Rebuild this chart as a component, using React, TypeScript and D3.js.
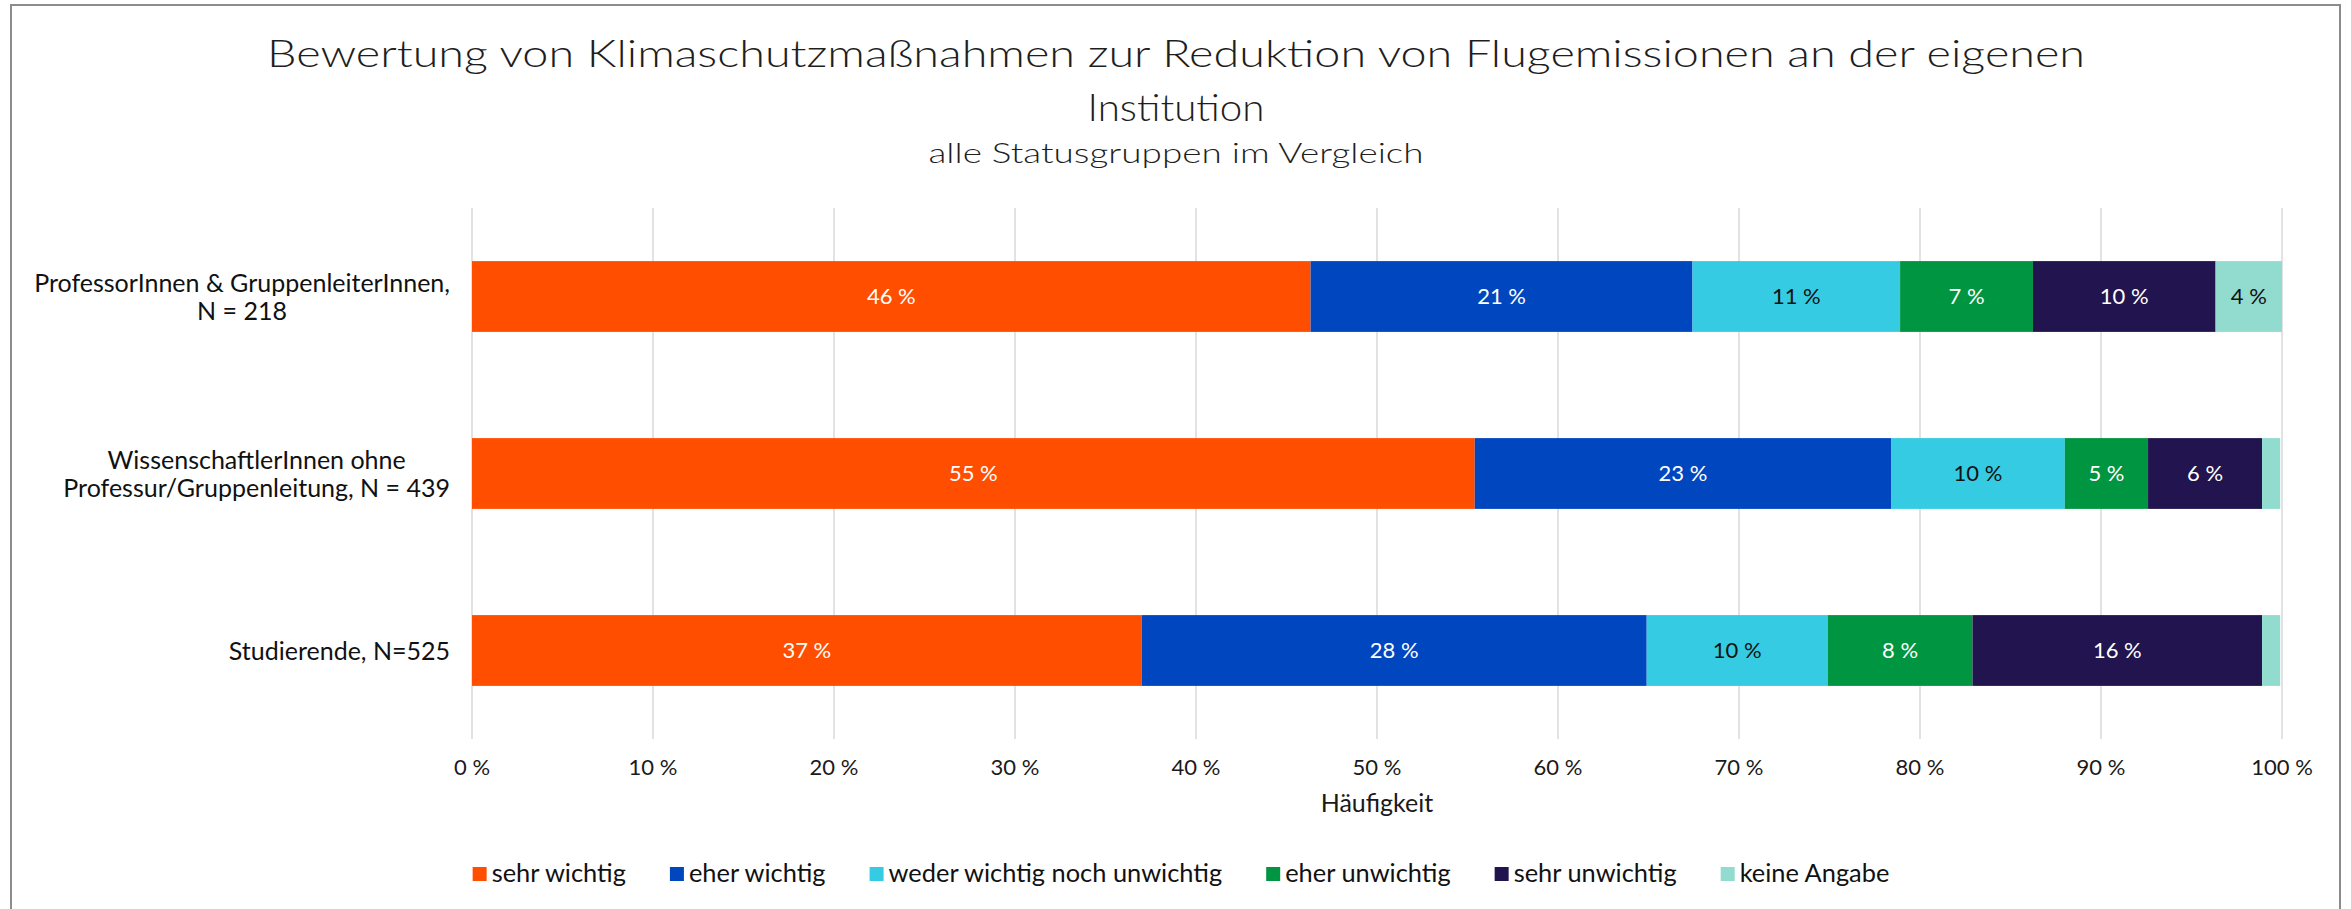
import React, { useEffect, useRef } from "react";
import * as d3 from "d3";

const W = 2351;
const H = 909;

// ---- data ----
const titleLines = [
  "Bewertung von Klimaschutzmaßnahmen zur Reduktion von Flugemissionen an der eigenen",
  "Institution",
];
const subtitle = "alle Statusgruppen im Vergleich";
const axisTitle = "Häufigkeit";

const categoryIds = ["prof", "wiss", "stud"];
const categoryLabels = [
  ["ProfessorInnen & GruppenleiterInnen,", "N = 218"],
  ["WissenschaftlerInnen ohne", "Professur/Gruppenleitung, N = 439"],
  ["Studierende, N=525"],
];

const seriesNames = [
  "sehr wichtig",
  "eher wichtig",
  "weder wichtig noch unwichtig",
  "eher unwichtig",
  "sehr unwichtig",
  "keine Angabe",
];
const seriesColors = ["#FF4E00", "#0046BF", "#35CCE3", "#009540", "#21144F", "#91DBCF"];
const labelColors = ["#ffffff", "#ffffff", "#111111", "#ffffff", "#ffffff", "#111111"];

const sehrWichtig = [46.33, 55.4, 37.0];
const eherWichtig = [21.1, 23.0, 27.9];
const weder = [11.47, 9.6, 10.0];
const eherUnwichtig = [7.34, 4.6, 8.0];
const sehrUnwichtig = [10.09, 6.3, 16.0];
const keineAngabe = [3.67, 1.0, 1.0];
const seriesValues = [sehrWichtig, eherWichtig, weder, eherUnwichtig, sehrUnwichtig, keineAngabe];

const xTicks = [0, 10, 20, 30, 40, 50, 60, 70, 80, 90, 100];

const FONT = "Lato, 'Open Sans', 'DejaVu Sans', sans-serif";

export default function App() {
  const ref = useRef<SVGSVGElement>(null);

  useEffect(() => {
    const svg = d3.select(ref.current);
    svg.selectAll("*").remove();

    const plot = { left: 472, right: 2282, top: 208, bottom: 739 };

    // frame
    svg
      .append("rect")
      .attr("x", 11)
      .attr("y", 5)
      .attr("width", 2329)
      .attr("height", 1000)
      .attr("fill", "#ffffff")
      .attr("stroke", "#8c8c8c")
      .attr("stroke-width", 2);

    const cx = 1176;

    // title
    const titleSpecs = [
      { text: titleLines[0], y: 67, size: 37, len: 1818 },
      { text: titleLines[1], y: 121, size: 37, len: 177 },
      { text: subtitle, y: 163, size: 28, len: 495 },
    ];
    titleSpecs.forEach((t) => {
      svg
        .append("text")
        .attr("x", cx)
        .attr("y", t.y)
        .attr("text-anchor", "middle")
        .attr("font-family", FONT)
        .attr("font-weight", 300)
        .attr("font-size", t.size)
        .attr("fill", "#1e1e1e")
        .attr("textLength", t.len)
        .attr("lengthAdjust", "spacingAndGlyphs")
        .text(t.text);
    });

    const x = d3.scaleLinear().domain([0, 100]).range([plot.left, plot.right]);
    const y = d3
      .scaleBand<string>()
      .domain(categoryIds)
      .range([plot.top, plot.bottom])
      .paddingInner(0.6)
      .paddingOuter(0.3);

    // gridlines
    svg
      .append("g")
      .selectAll("line")
      .data(xTicks)
      .join("line")
      .attr("x1", (d) => x(d))
      .attr("x2", (d) => x(d))
      .attr("y1", plot.top)
      .attr("y2", plot.bottom)
      .attr("stroke", "#d9d9d9")
      .attr("stroke-width", 1.5);

    // tick labels
    svg
      .append("g")
      .selectAll("text")
      .data(xTicks)
      .join("text")
      .attr("x", (d) => x(d))
      .attr("y", 775)
      .attr("text-anchor", "middle")
      .attr("font-family", FONT)
      .attr("font-size", 22)
      .attr("fill", "#1a1a1a")
      .text((d) => `${d} %`);

    svg
      .append("text")
      .attr("x", (plot.left + plot.right) / 2)
      .attr("y", 812)
      .attr("text-anchor", "middle")
      .attr("font-family", FONT)
      .attr("font-size", 25)
      .attr("fill", "#1a1a1a")
      .text(axisTitle);

    // stacked data
    const rows = categoryIds.map((id, i) => {
      const r: any = { id };
      seriesNames.forEach((s, j) => (r[s] = seriesValues[j][i]));
      return r;
    });
    const stacked = d3.stack<any>().keys(seriesNames)(rows);

    const bars = svg.append("g");
    stacked.forEach((layer, j) => {
      const g = bars.append("g");
      g.selectAll("rect")
        .data(layer)
        .join("rect")
        .attr("x", (d) => x(d[0]))
        .attr("width", (d) => x(d[1]) - x(d[0]))
        .attr("y", (d) => y(d.data.id)!)
        .attr("height", y.bandwidth())
        .attr("fill", seriesColors[j]);
      g.selectAll("text")
        .data(layer.filter((d) => d[1] - d[0] >= 2))
        .join("text")
        .attr("x", (d) => (x(d[0]) + x(d[1])) / 2)
        .attr("y", (d) => y(d.data.id)! + y.bandwidth() / 2)
        .attr("dy", "0.36em")
        .attr("text-anchor", "middle")
        .attr("font-family", FONT)
        .attr("font-size", 22)
        .attr("fill", labelColors[j])
        .text((d) => `${Math.round(d[1] - d[0])} %`);
    });

    // category labels
    const labelRight = 450;
    const lineH = 28;
    categoryIds.forEach((id, i) => {
      const lines = categoryLabels[i];
      const g = svg.append("g");
      const texts = g
        .selectAll("text")
        .data(lines)
        .join("text")
        .attr("font-family", FONT)
        .attr("font-size", 25)
        .attr("fill", "#111111")
        .attr("text-anchor", "middle")
        .text((d) => d);
      let maxW = 0;
      texts.each(function () {
        maxW = Math.max(maxW, (this as SVGTextElement).getComputedTextLength());
      });
      const cy = y(id)! + y.bandwidth() / 2;
      const n = lines.length;
      texts
        .attr("x", labelRight - maxW / 2)
        .attr("y", (_d, k) => cy + (k - (n - 1) / 2) * lineH)
        .attr("dy", "0.36em");
    });

    // legend
    const legend = svg.append("g");
    const sw = 14;
    const gapText = 5;
    const gapItem = 44;
    const items = seriesNames.map((name, j) => {
      const t = legend
        .append("text")
        .attr("font-family", FONT)
        .attr("font-size", 25.4)
        .attr("fill", "#111111")
        .attr("y", 882)
        .text(name);
      const w = (t.node() as SVGTextElement).getComputedTextLength();
      return { t, w, j };
    });
    const total =
      items.reduce((a, it) => a + sw + gapText + it.w, 0) + gapItem * (items.length - 1);
    let cur = 1181 - total / 2;
    items.forEach((it) => {
      legend
        .append("rect")
        .attr("x", cur)
        .attr("y", 867)
        .attr("width", sw)
        .attr("height", sw)
        .attr("fill", seriesColors[it.j]);
      it.t.attr("x", cur + sw + gapText);
      cur += sw + gapText + it.w + gapItem;
    });
  }, []);

  return (
    <svg
      ref={ref}
      width={W}
      height={H}
      style={{ position: "absolute", left: 0, top: 0, background: "#ffffff" }}
    />
  );
}
